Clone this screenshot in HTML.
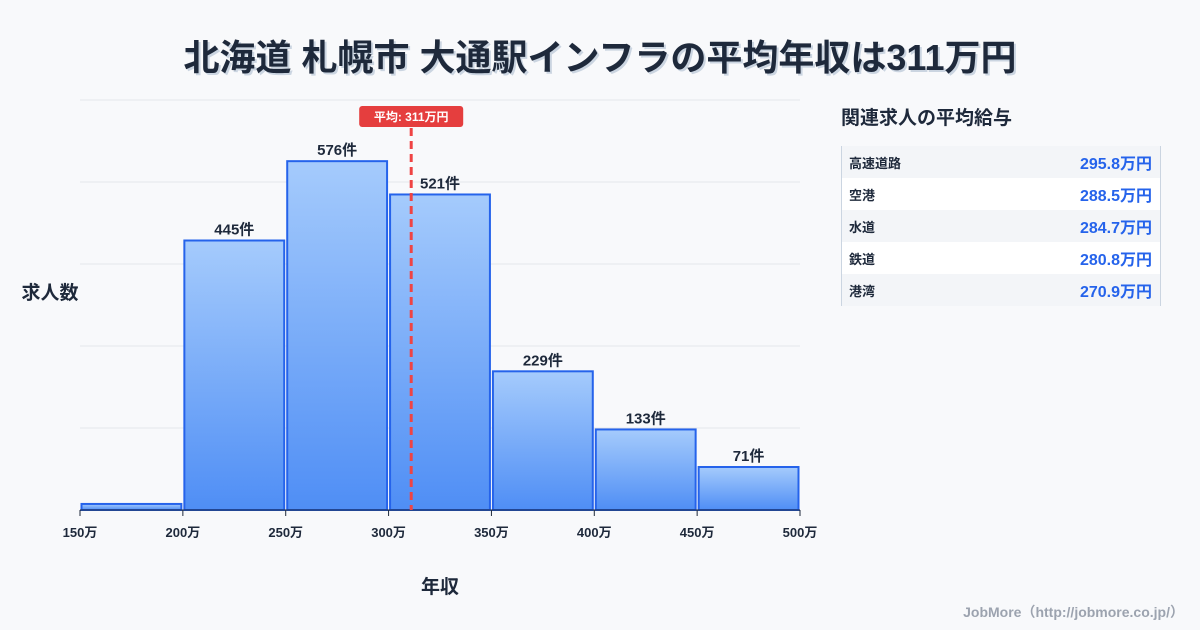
<!DOCTYPE html>
<html><head><meta charset="utf-8">
<style>
body{margin:0;width:1200px;height:630px;background:#f8f9fb;font-family:"Liberation Sans","Noto Sans CJK JP",sans-serif;position:relative;overflow:hidden;color:#1f2937}
#title{position:absolute;top:29px;left:0;width:1200px;text-align:center;font-size:36px;font-weight:bold;color:#1e293b;text-shadow:2px 2px 0 #cbd5e1}
#side-title{position:absolute;left:841px;top:103px;font-size:19px;font-weight:bold;color:#1e293b}
#panel{position:absolute;left:841px;top:146px;width:318px;border-left:1px solid #cbd5e1;border-right:1px solid #cbd5e1}
.row{height:32px;display:flex;justify-content:space-between;align-items:center;padding:0 8px 0 7px}
.row:nth-child(odd){background:#f3f5f8}.row:nth-child(even){background:#fff}
.row .n{font-size:13px;font-weight:bold;color:#1e293b}
.row .v{font-size:16px;font-weight:bold;color:#2563eb}
#footer{position:absolute;right:16px;top:602px;font-size:14px;font-weight:bold;color:#9ca3af}
</style></head><body>
<div id="title">北海道 札幌市 大通駅インフラの平均年収は311万円</div>
<svg id="chart" width="830" height="630" style="position:absolute;left:0;top:0">
<defs><linearGradient id="g" x1="0" y1="0" x2="0" y2="1"><stop offset="0" stop-color="#a5cbfc"/><stop offset="1" stop-color="#4f8ef5"/></linearGradient></defs>
<g id="grid"></g><g id="bars"></g><g id="axis"></g><g id="mean"></g>
<text x="50" y="299" text-anchor="middle" font-size="19" font-weight="bold" fill="#1e293b">求人数</text>
<text x="440" y="593" text-anchor="middle" font-size="19" font-weight="bold" fill="#1e293b">年収</text>
</svg>
<div id="side-title">関連求人の平均給与</div>
<div id="panel">
<div class="row"><span class="n">高速道路</span><span class="v">295.8万円</span></div>
<div class="row"><span class="n">空港</span><span class="v">288.5万円</span></div>
<div class="row"><span class="n">水道</span><span class="v">284.7万円</span></div>
<div class="row"><span class="n">鉄道</span><span class="v">280.8万円</span></div>
<div class="row"><span class="n">港湾</span><span class="v">270.9万円</span></div>
</div>
<div id="footer">JobMore（http://jobmore.co.jp/）</div>
<script>
const binEdges=[150,200,250,300,350,400,450,500];
const counts=[10,445,576,521,229,133,71];
const countLabels=["","445件","576件","521件","229件","133件","71件"];
const meanValue=311;
const meanLabel="平均: 311万円";
const ns="http://www.w3.org/2000/svg";
const X0=80,X1=800,Y0=510,Y1=100,XMIN=150,XMAX=500,YMAX=677;
const x=v=>X0+(v-XMIN)/(XMAX-XMIN)*(X1-X0);
const y=v=>Y0-v/YMAX*(Y0-Y1);
function mk(t,a,p){const e=document.createElementNS(ns,t);for(const k in a)e.setAttribute(k,a[k]);p.appendChild(e);return e;}
const grid=document.getElementById('grid');
for(let i=0;i<=5;i++){const gy=Y0-i*(Y0-Y1)/5;const l=mk('line',{x1:X0,x2:X1,y1:gy,y2:gy,stroke:'#e5e7eb','stroke-width':1},grid);

}
const bars=document.getElementById('bars');
counts.forEach((c,i)=>{const bx=x(binEdges[i])+1.5,bw=x(binEdges[i+1])-x(binEdges[i])-3;
const r=mk('rect',{x:bx,y:y(c),width:bw,height:Y0-y(c),fill:'url(#g)',stroke:'#2563eb','stroke-width':2},bars);


if(countLabels[i]){const t=mk('text',{x:bx+bw/2,y:y(c)-6,'text-anchor':'middle','font-size':15,'font-weight':'bold',fill:'#1e293b'},bars);t.textContent=countLabels[i];

}});
const ax=document.getElementById('axis');
mk('line',{x1:X0,x2:X1,y1:Y0,y2:Y0,stroke:'#1e293b','stroke-width':1},ax);
binEdges.forEach(v=>{mk('line',{x1:x(v),x2:x(v),y1:Y0,y2:Y0+6,stroke:'#1e293b'},ax);
const t=mk('text',{x:x(v),y:Y0+27,'text-anchor':'middle','font-size':13,'font-weight':'bold',fill:'#1e293b'},ax);t.textContent=v+'万';

});
const mg=document.getElementById('mean');const mx=x(meanValue);
const ml=mk('line',{x1:mx,x2:mx,y1:128,y2:Y0,stroke:'#ef4444','stroke-width':3,'stroke-dasharray':'8,5'},mg);


const mr=mk('rect',{x:mx-52,y:106,width:104,height:21,rx:3,fill:'#e53e3e'},mg);


const mt=mk('text',{x:mx,y:121,'text-anchor':'middle','font-size':12,'font-weight':'bold',fill:'#fff'},mg);mt.textContent=meanLabel;


</script>
</body></html>
